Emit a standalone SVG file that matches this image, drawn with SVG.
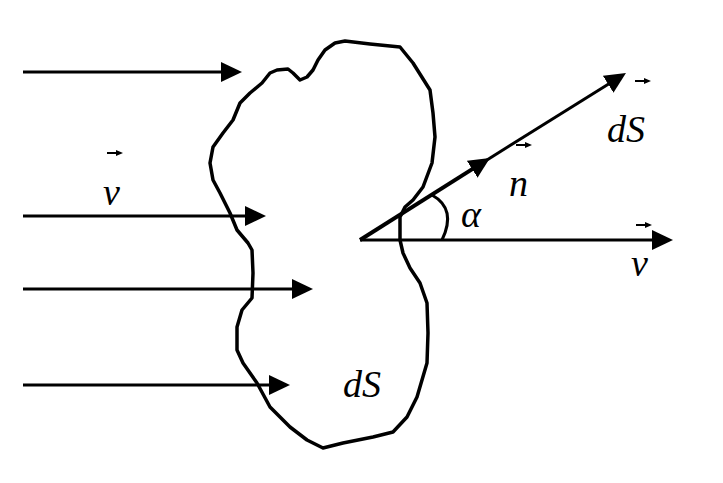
<svg xmlns="http://www.w3.org/2000/svg" width="723" height="483" viewBox="0 0 723 483">
<defs>
<style>
.ln{stroke:#000;stroke-width:3;fill:none}
.sm{stroke:#000;stroke-width:2;fill:none}
text{font-family:'Liberation Serif','DejaVu Serif','Times New Roman',serif;font-style:italic;font-size:38px;fill:#000}
</style>
<marker id="ah" markerUnits="userSpaceOnUse" markerWidth="22" markerHeight="22" viewBox="0 0 22 22" refX="9" refY="11" orient="auto">
<path d="M0,1 L21,11 L0,21 Z" fill="#000"/>
</marker>
<marker id="sa" markerUnits="userSpaceOnUse" markerWidth="8" markerHeight="8" viewBox="0 0 8 8" refX="1" refY="4" orient="auto">
<path d="M0,1 L7,4 L0,7 Z" fill="#000"/>
</marker>
</defs>
<rect width="723" height="483" fill="#fff"/>
<g id="surface">
<polyline fill="none" stroke="#000" stroke-width="3.5" stroke-linejoin="round" stroke-linecap="round" points="335,43 345,41 370,44 400,47 413,63 430,90 433,113 435,137 432,163 423,187 413,200 405,207 400,217 400,240 403,253 410,268 420,283 427,303 428,333 427,363 417,397 407,417 393,432 373,437 343,443 323,448 307,440 290,427 270,407 257,383 243,363 237,350 237,327 242,310 252,298 253,273 252,250 248,243 237,230 230,213 220,193 213,180 210,163 213,147 223,133 233,120 240,103 250,93 262,83 270,73 277,70 288,69 293,73 300,80 307,77 313,70 318,60 325,50 335,43"/>
</g>
<g id="connectors">
<line class="ln" x1="23" y1="72" x2="230" y2="72" marker-end="url(#ah)"/>
<line class="ln" x1="23" y1="216" x2="254" y2="216" marker-end="url(#ah)"/>
<line class="ln" x1="23" y1="289" x2="301" y2="289" marker-end="url(#ah)"/>
<line class="ln" x1="23" y1="385" x2="278" y2="385" marker-end="url(#ah)"/>
<line class="ln" x1="360" y1="240" x2="661" y2="240" marker-end="url(#ah)"/>
<line stroke="#000" stroke-width="4" x1="360" y1="240" x2="479.8" y2="164.4" marker-end="url(#ah)"/>
<line class="ln" x1="479.8" y1="164.4" x2="615.8" y2="79.4" marker-end="url(#ah)"/>
<path class="ln" d="M432,195 Q457,209 442,240"/>
</g>
<g id="labels">
<text x="103" y="205" font-family="Liberation Serif">v</text>
<line class="sm" x1="107" y1="153" x2="117" y2="153" marker-end="url(#sa)"/>
<text x="607" y="142" font-family="Liberation Serif">dS</text>
<line class="sm" x1="635" y1="81" x2="645" y2="81" marker-end="url(#sa)"/>
<text x="509" y="196" font-family="Liberation Serif">n</text>
<line class="sm" x1="516" y1="145" x2="526" y2="145" marker-end="url(#sa)"/>
<text x="461" y="227" font-family="Liberation Serif">α</text>
<text x="631" y="276" font-family="Liberation Serif">v</text>
<line class="sm" x1="636" y1="225" x2="646" y2="225" marker-end="url(#sa)"/>
<text x="343" y="397" font-family="Liberation Serif">dS</text>
</g>
</svg>
